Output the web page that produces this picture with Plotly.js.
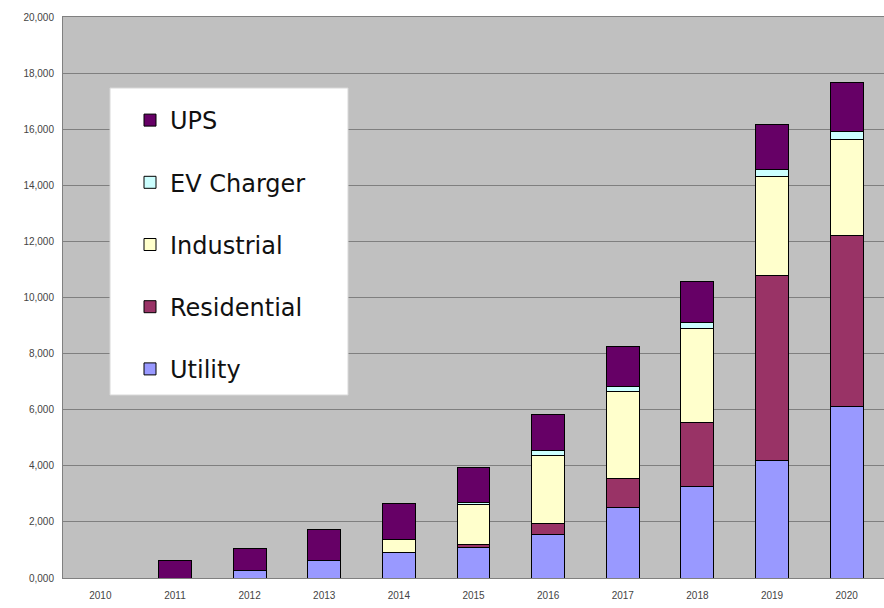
<!DOCTYPE html>
<html>
<head>
<meta charset="utf-8">
<script src="https://cdn.plot.ly/plotly-3.0.1.min.js"></script>
<style>html,body{margin:0;padding:0;background:#fff;}#chart{width:884px;height:608px;}</style>
</head>
<body>
<div id="chart"></div>
<script>
var years = ["2010","2011","2012","2013","2014","2015","2016","2017","2018","2019","2020"];
var utility     = [0, 0,   280, 640, 900, 1090, 1550, 2500, 3250, 4180, 6120];
var residential = [0, 0,   0,   0,   0,   120,  390,  1060, 2280, 6600, 6100];
var industrial  = [0, 0,   0,   0,   480, 1400, 2420, 3100, 3350, 3550, 3430];
var evCharger   = [0, 0,   0,   0,   0,   90,   180,  180,  230,  240,  260];
var ups         = [0, 620, 780, 1100,1290,1240, 1300, 1400, 1450, 1580, 1740];
var yTickVals   = [0,2000,4000,6000,8000,10000,12000,14000,16000,18000,20000];
var yTickText   = ["0,000","2,000","4,000","6,000","8,000","10,000","12,000","14,000","16,000","18,000","20,000"];

var names  = ["Utility","Residential","Industrial","EV Charger","UPS"];
var series = [utility, residential, industrial, evCharger, ups];
var colors = ["#9999FF","#993366","#FFFFCC","#CCFFFF","#660066"];

var data = series.map(function(s,i){
  return {
    type:"bar", x:years, y:s, name:names[i], legendgroup:"g"+i,
    legendrank: 10 - i,
    marker:{color:colors[i], line:{color:"#000000", width:1}}
  };
});

var layout = {
  width:884, height:608,
  margin:{l:63, r:0, t:17, b:30},
  paper_bgcolor:"#ffffff",
  plot_bgcolor:"#C0C0C0",
  barmode:"stack",
  bargap:0.56,
  showlegend:true,
  font:{family:"Liberation Sans, Arial, sans-serif", color:"#333333", size:10},
  xaxis:{
    type:"category", showgrid:false, zeroline:false,
    showline:true, linecolor:"#808080", linewidth:1, mirror:true,
    ticks:"", ticklabelstandoff:8,
    tickfont:{family:"Liberation Sans, Arial, sans-serif", size:10, color:"#444444"}
  },
  yaxis:{
    range:[0,20000], tickvals:yTickVals, ticktext:yTickText,
    showgrid:true, gridcolor:"#7f7f7f", gridwidth:1, zeroline:false,
    showline:true, linecolor:"#808080", linewidth:1, mirror:true,
    ticks:"", ticklabelstandoff:6,
    tickfont:{family:"Liberation Sans, Arial, sans-serif", size:10, color:"#444444"}
  },
  shapes:[{
    type:"rect", xref:"paper", yref:"paper",
    x0:(110-63)/821, x1:(348-63)/821, y0:(578-395)/561, y1:(578-88)/561,
    fillcolor:"#ffffff", line:{color:"#d8d8d8", width:1}, layer:"above"
  }],
  legend:{
    x:(130-63)/821, y:(578-98)/561, xanchor:"left", yanchor:"top",
    bgcolor:"rgba(0,0,0,0)", borderwidth:0,
    traceorder:"grouped", tracegroupgap:28,
    font:{family:"DejaVu Sans, sans-serif", size:24, color:"#111111"},
    itemwidth:30
  }
};

Plotly.newPlot("chart", data, layout, {displayModeBar:false, staticPlot:true});
</script>
</body>
</html>
